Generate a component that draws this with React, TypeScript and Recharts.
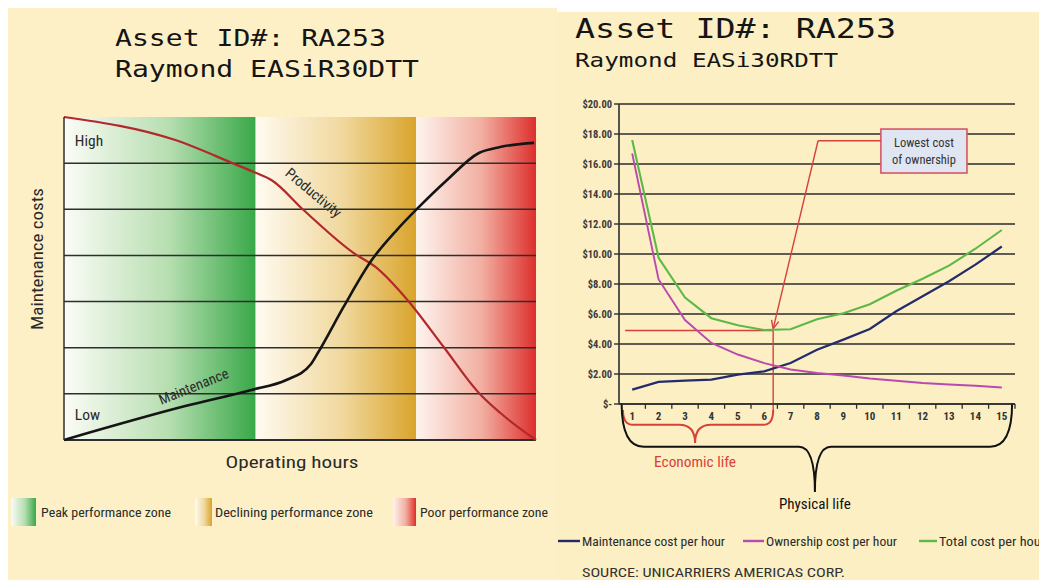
import React from 'react';
import {
  ComposedChart,
  Line,
  XAxis,
  YAxis,
  CartesianGrid,
  ReferenceArea,
  ReferenceLine,
  ReferenceDot,
} from 'recharts';

// ---------------- Left chart data ----------------
const leftTitle = ['Asset ID#: RA253', 'Raymond EASiR30DTT'];
const zoneNames = ['Peak performance zone', 'Declining performance zone', 'Poor performance zone'];
const zoneStart = [0, 40.6, 74.6];
const zoneEnd = [40.6, 74.6, 100];
const gridLevels = [1, 2, 3, 4, 5, 6];

const productivityHours = [0, 23.6, 35.7, 40.6, 44, 50.8, 61.4, 66, 72.8, 80.4, 87.9, 92.4, 100];
const productivityLevel = [7.0, 6.5, 6.0, 5.79, 5.63, 4.98, 4.05, 3.75, 3.03, 2.02, 1.02, 0.59, 0];
const maintenanceHours = [0, 25.9, 39.5, 47.1, 52.2, 53.8, 59.2, 65.2, 70.5, 75.0, 81.1, 87.9, 92.4, 99.6];
const maintenanceLevel = [0, 0.74, 1.08, 1.3, 1.63, 1.89, 2.88, 3.9, 4.55, 5.03, 5.63, 6.22, 6.35, 6.44];

// ---------------- Right chart data ----------------
const rightTitle = ['Asset ID#: RA253', 'Raymond EASi30RDTT'];
const years = [1, 2, 3, 4, 5, 6, 7, 8, 9, 10, 11, 12, 13, 14, 15];
const maintenanceCost = [0.96, 1.47, 1.56, 1.62, 1.96, 2.18, 2.73, 3.62, 4.29, 5.0, 6.18, 7.18, 8.18, 9.29, 10.5];
const ownershipCost = [16.7, 8.3, 5.6, 4.07, 3.3, 2.73, 2.3, 2.07, 1.9, 1.7, 1.55, 1.4, 1.3, 1.22, 1.1];
const totalCost = [17.6, 9.75, 7.1, 5.72, 5.25, 4.93, 4.98, 5.65, 6.05, 6.65, 7.55, 8.35, 9.22, 10.35, 11.6];
const yTicks = [0, 2, 4, 6, 8, 10, 12, 14, 16, 18, 20];
const seriesNames = ['Maintenance cost per hour', 'Ownership cost per hour', 'Total cost per hour'];
const seriesColors = ['#232B6B', '#B94AAE', '#5DB947'];
const lowestCost = 4.9;
const economicLifeEnd = 6.34;
const calloutText = ['Lowest cost', 'of ownership'];
const sourceText = 'SOURCE: UNICARRIERS AMERICAS CORP.';

const FONT = "'Liberation Sans Narrow', 'Roboto Condensed', 'Open Sans', 'Noto Sans', sans-serif";
const MONO = "'DejaVu Sans Mono', 'Liberation Mono', monospace";
const RED = '#D8403A';
const DARK = '#2E2E2E';

const productivity = productivityHours.map((x, i) => ({ x, y: productivityLevel[i] }));
const maintenance = maintenanceHours.map((x, i) => ({ x, y: maintenanceLevel[i] }));
const rightData = years.map((year, i) => ({
  year,
  maintenance: maintenanceCost[i],
  ownership: ownershipCost[i],
  total: totalCost[i],
}));
const tickMarks = years.map((y) => y + 0.5);

const zoneGradients = [
  ['#FBFCF6', '#B6DEB0', '#38A848'],
  ['#FFFBF1', '#F0D79C', '#D9A42B'],
  ['#FDF4EE', '#F2AEA1', '#DD2F2C'],
];

const GradientDefs = () => (
  <defs>
    {zoneGradients.map((c, i) => (
      <linearGradient key={i} id={`zone${i}`} x1="0" y1="0" x2="1" y2="0">
        <stop offset="0" stopColor={c[0]} />
        <stop offset="0.55" stopColor={c[1]} />
        <stop offset="1" stopColor={c[2]} />
      </linearGradient>
    ))}
  </defs>
);

const textLabel = (text: string, rotate: number, anchor: string, size: number) => (p: any) => (
  <text
    x={p.cx}
    y={p.cy}
    transform={rotate ? `rotate(${rotate} ${p.cx} ${p.cy})` : undefined}
    textAnchor={anchor}
    dominantBaseline="central"
    fontFamily={FONT}
    fontSize={size}
    fill="#2a2a2a"
  >
    {text}
  </text>
);

const ArrowShape = (props: any) => {
  const { x1, y1, x2, y2 } = props;
  const ang = Math.atan2(y2 - y1, x2 - x1);
  const len = 9;
  const spread = 0.42;
  const a1x = x2 - len * Math.cos(ang - spread);
  const a1y = y2 - len * Math.sin(ang - spread);
  const a2x = x2 - len * Math.cos(ang + spread);
  const a2y = y2 - len * Math.sin(ang + spread);
  return (
    <g>
      <line x1={x1} y1={y1} x2={x2} y2={y2} stroke={RED} strokeWidth={1.4} />
      <polyline points={`${a1x},${a1y} ${x2},${y2} ${a2x},${a2y}`} fill="none" stroke={RED} strokeWidth={1.4} />
    </g>
  );
};

const bracketShape = (color: string, label: string, hFrac: number, cFrac: number, r: number, labelGap: number, size: number, width: number) =>
  (p: any) => {
    const L = p.x;
    const R = p.x + p.width;
    const top = p.y;
    const tip = p.y + p.height;
    const hy = top + p.height * hFrac;
    const cx = L + p.width * cFrac;
    const d = `M${L},${top} Q${L},${hy} ${L + r},${hy} L${cx - 16},${hy} Q${cx},${hy} ${cx},${tip} M${cx},${tip} Q${cx},${hy} ${cx + 16},${hy} L${R - r},${hy} Q${R},${hy} ${R},${top}`;
    return (
      <g>
        <path d={d} fill="none" stroke={color} strokeWidth={2} />
        <text
          x={cx}
          y={tip + labelGap}
          textAnchor="middle"
          fontFamily={FONT}
          fontSize={size}
          fill={color}
          textLength={width}
          lengthAdjust="spacingAndGlyphs"
        >
          {label}
        </text>
      </g>
    );
  };

const CalloutShape = (p: any) => (
  <g>
    <rect x={p.x} y={p.y} width={p.width} height={p.height} fill="#DFE5F1" stroke="#D65468" strokeWidth={1.6} />
    <text x={p.x + p.width / 2} y={p.y + 18} textAnchor="middle" fontFamily={FONT} fontSize={12.5} fill="#333">
      {calloutText[0]}
    </text>
    <text x={p.x + p.width / 2} y={p.y + 35} textAnchor="middle" fontFamily={FONT} fontSize={12.5} fill="#333">
      {calloutText[1]}
    </text>
  </g>
);

const LeftChart = () => (
  <ComposedChart width={557} height={580} margin={{ top: 117, right: 21, left: 54, bottom: 140 }}>
    <GradientDefs />
    <XAxis type="number" dataKey="x" domain={[0, 100]} hide />
    <YAxis
      type="number"
      domain={[0, 7]}
      ticks={gridLevels}
      width={10}
      tick={false}
      tickSize={8}
      tickLine={{ stroke: DARK, strokeWidth: 1.5 }}
      axisLine={{ stroke: DARK, strokeWidth: 1.5 }}
    />
    {zoneNames.map((n, i) => (
      <ReferenceArea
        key={n}
        x1={zoneStart[i]}
        x2={zoneEnd[i]}
        y1={0}
        y2={7}
        fill={`url(#zone${i})`}
        fillOpacity={1}
        stroke="none"
      />
    ))}
    {gridLevels.map((g) => (
      <ReferenceLine key={g} y={g} stroke={DARK} strokeWidth={1.5} />
    ))}
    <ReferenceLine y={0} stroke={DARK} strokeWidth={2} />
    <Line data={productivity} dataKey="y" type="monotone" stroke="#B3282B" strokeWidth={2.2} dot={false} isAnimationActive={false} />
    <Line data={maintenance} dataKey="y" type="monotone" stroke="#151515" strokeWidth={2.6} dot={false} isAnimationActive={false} />
    <ReferenceDot x={2.3} y={6.48} r={0} shape={textLabel('High', 0, 'start', 15.5)} />
    <ReferenceDot x={2.3} y={0.54} r={0} shape={textLabel('Low', 0, 'start', 15.5)} />
    <ReferenceDot x={27.5} y={1.15} r={0} shape={textLabel('Maintenance', -22, 'middle', 14.5)} />
    <ReferenceDot x={52.8} y={5.35} r={0} shape={textLabel('Productivity', 40, 'middle', 14.5)} />
  </ComposedChart>
);

const RightChart = () => (
  <ComposedChart width={482} height={580} data={rightData} margin={{ top: 104, right: 24, left: 12, bottom: 156 }}>
    <CartesianGrid vertical={false} stroke="#2B2B2B" strokeWidth={1.4} />
    <XAxis
      dataKey="year"
      type="number"
      domain={[0.5, 15.5]}
      ticks={years}
      interval={0}
      height={20}
      tickLine={false}
      axisLine={{ stroke: DARK, strokeWidth: 1.6 }}
      tick={{ fontSize: 11, fontWeight: 700, fill: '#333', fontFamily: FONT }}
    />
    <YAxis
      type="number"
      domain={[0, 20]}
      ticks={yTicks}
      width={50}
      tickSize={5}
      tickFormatter={(v: number) => (v === 0 ? '$-' : `$${v.toFixed(2)}`)}
      tickLine={{ stroke: DARK, strokeWidth: 1.4 }}
      axisLine={{ stroke: DARK, strokeWidth: 1.6 }}
      tick={{ fontSize: 10.5, fontWeight: 700, fill: '#3A3A3A', fontFamily: FONT }}
    />
    {tickMarks.map((t) => (
      <ReferenceLine
        key={t}
        segment={[{ x: t, y: 0 }, { x: t, y: -0.32 }]}
        stroke={DARK}
        strokeWidth={1.3}
        ifOverflow="visible"
      />
    ))}
    <ReferenceLine
      segment={[{ x: 0.73, y: lowestCost }, { x: economicLifeEnd, y: lowestCost }]}
      stroke={RED}
      strokeWidth={1.4}
      ifOverflow="visible"
    />
    <ReferenceLine
      segment={[{ x: economicLifeEnd, y: lowestCost }, { x: economicLifeEnd, y: -0.45 }]}
      stroke={RED}
      strokeWidth={1.4}
      ifOverflow="visible"
    />
    <ReferenceLine
      segment={[{ x: 10.42, y: 17.55 }, { x: 8.04, y: 17.55 }]}
      stroke={RED}
      strokeWidth={1.4}
      ifOverflow="visible"
    />
    <ReferenceLine
      segment={[{ x: 8.04, y: 17.55 }, { x: economicLifeEnd, y: 5.02 }]}
      stroke={RED}
      shape={ArrowShape}
      ifOverflow="visible"
    />
    <ReferenceArea x1={10.42} x2={13.68} y1={15.4} y2={18.33} shape={CalloutShape} ifOverflow="visible" />
    <ReferenceArea
      x1={0.65}
      x2={economicLifeEnd}
      y1={-0.4}
      y2={-2.6}
      shape={bracketShape(RED, 'Economic life', 0.45, 0.48, 10, 24, 14.5, 82)}
      ifOverflow="visible"
    />
    <ReferenceArea
      x1={0.6}
      x2={15.39}
      y1={0.05}
      y2={-5.87}
      shape={bracketShape('#111', 'Physical life', 0.49, 0.495, 22, 17, 15, 72)}
      ifOverflow="visible"
    />
    <Line dataKey="maintenance" type="linear" stroke={seriesColors[0]} strokeWidth={2.2} dot={false} isAnimationActive={false} />
    <Line dataKey="ownership" type="linear" stroke={seriesColors[1]} strokeWidth={1.9} dot={false} isAnimationActive={false} />
    <Line dataKey="total" type="linear" stroke={seriesColors[2]} strokeWidth={2.1} dot={false} isAnimationActive={false} />
  </ComposedChart>
);

const legendLeft = [
  { sx: 11, sw: 25, tx: 41, tw: 130 },
  { sx: 195, sw: 17, tx: 215, tw: 158 },
  { sx: 393, sw: 23, tx: 420, tw: 128 },
];
const legendRight = [
  { lx: 558, lw: 22, tx: 582, tw: 143 },
  { lx: 743, lw: 21, tx: 766, tw: 131 },
  { lx: 919, lw: 18, tx: 939, tw: 106 },
];

const Overlay = () => (
  <svg width={1039} height={580} style={{ position: 'absolute', left: 0, top: 0, pointerEvents: 'none' }}>
    <text x={115} y={46} fontFamily={MONO} fontSize={23} fill="#151515" textLength={271} lengthAdjust="spacingAndGlyphs">
      {leftTitle[0]}
    </text>
    <text x={115} y={77} fontFamily={MONO} fontSize={23} fill="#151515" textLength={304} lengthAdjust="spacingAndGlyphs">
      {leftTitle[1]}
    </text>
    <text x={575} y={38} fontFamily={MONO} fontSize={26} fill="#151515" textLength={321} lengthAdjust="spacingAndGlyphs">
      {rightTitle[0]}
    </text>
    <text x={575} y={67} fontFamily={MONO} fontSize={20} fill="#151515" textLength={263} lengthAdjust="spacingAndGlyphs">
      {rightTitle[1]}
    </text>
    <text
      x={37}
      y={259}
      transform="rotate(-90 37 259)"
      textAnchor="middle"
      dominantBaseline="central"
      fontFamily={FONT}
      fontSize={16}
      fill="#2a2a2a"
      textLength={142}
      lengthAdjust="spacingAndGlyphs"
    >
      Maintenance costs
    </text>
    <text x={292} y={468} textAnchor="middle" fontFamily={FONT} fontSize={16.5} fill="#2a2a2a" textLength={133} lengthAdjust="spacingAndGlyphs">
      Operating hours
    </text>
    {zoneNames.map((n, i) => (
      <g key={n}>
        <rect x={legendLeft[i].sx} y={498} width={legendLeft[i].sw} height={28} fill={`url(#zone${i})`} />
        <text x={legendLeft[i].tx} y={517} fontFamily={FONT} fontSize={13} fill="#2a2a2a" textLength={legendLeft[i].tw} lengthAdjust="spacingAndGlyphs">
          {n}
        </text>
      </g>
    ))}
    {seriesNames.map((n, i) => (
      <g key={n}>
        <line x1={legendRight[i].lx} y1={541} x2={legendRight[i].lx + legendRight[i].lw} y2={541} stroke={seriesColors[i]} strokeWidth={2.4} />
        <text x={legendRight[i].tx} y={545.5} fontFamily={FONT} fontSize={13} fill="#2a2a2a" textLength={legendRight[i].tw} lengthAdjust="spacingAndGlyphs">
          {n}
        </text>
      </g>
    ))}
    <text x={582} y={577} fontFamily={FONT} fontSize={12} fill="#333" textLength={263} lengthAdjust="spacingAndGlyphs">
      {sourceText}
    </text>
  </svg>
);

export default function App() {
  return (
    <div style={{ position: 'absolute', left: 0, top: 0, width: 1039, height: 580, background: '#fff', overflow: 'hidden' }}>
      <div style={{ position: 'absolute', left: 8, top: 8, width: 549, height: 572, background: '#FDF0C6' }} />
      <div style={{ position: 'absolute', left: 557, top: 12, width: 482, height: 568, background: '#FCEFC4' }} />
      <div style={{ position: 'absolute', left: 0, top: 0 }}>
        <LeftChart />
      </div>
      <div style={{ position: 'absolute', left: 557, top: 0 }}>
        <RightChart />
      </div>
      <Overlay />
    </div>
  );
}
